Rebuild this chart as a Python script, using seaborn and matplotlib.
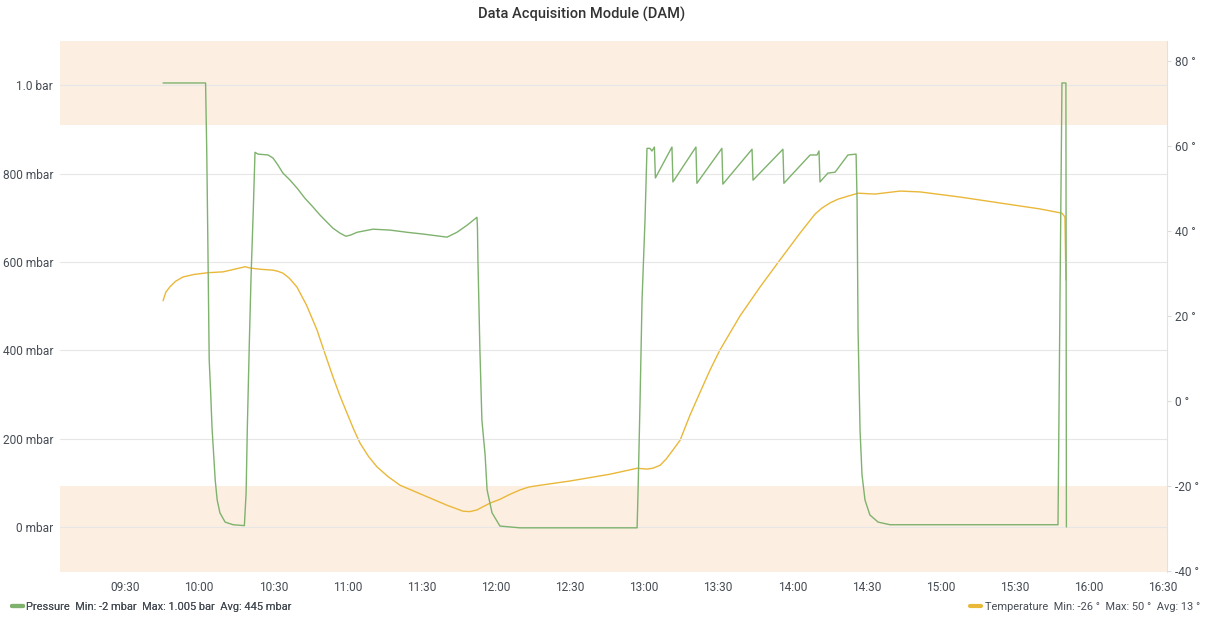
import matplotlib
matplotlib.use("Agg")
import matplotlib.pyplot as plt
import matplotlib.dates as mdates
from matplotlib.lines import Line2D
import seaborn as sns
import pandas as pd

# ---------------- data ----------------
pressure_time = [
    "09:45:24", "10:02:36", "10:03:04", "10:03:28", "10:03:52", "10:04:04", "10:04:40",
    "10:05:12", "10:06:00", "10:06:30", "10:07:18", "10:08:24", "10:10:30", "10:13:42",
    "10:18:18", "10:19:00", "10:19:30", "10:20:18", "10:21:00", "10:21:54", "10:22:36",
    "10:23:48", "10:27:54", "10:29:54", "10:31:54", "10:33:54", "10:36:48", "10:39:36",
    "10:42:48", "10:46:06", "10:48:54", "10:51:42", "10:54:12",
    "10:57:00", "10:59:24", "11:01:24", "11:03:54", "11:10:18", "11:17:12", "11:24:06", "11:30:36",
    "11:40:18", "11:44:18", "11:48:24", "11:52:24", "11:52:36", "11:52:48", "11:53:36",
    "11:54:24", "11:55:42", "11:56:30", "11:58:30", "12:01:42", "12:09:48", "12:57:12",
    "12:57:36", "12:58:24", "12:59:12", "13:00:24", "13:01:12", "13:02:24", "13:03:12",
    "13:04:12", "13:04:36", "13:11:18", "13:11:42", "13:21:00", "13:21:24", "13:31:30",
    "13:31:54", "13:43:42", "13:44:06", "13:56:12", "13:56:36", "14:07:12", "14:10:00",
    "14:10:48", "14:11:12", "14:14:24", "14:17:18", "14:22:30", "14:25:48", "14:26:12",
    "14:26:36", "14:27:24", "14:28:12", "14:29:24", "14:31:24", "14:34:42", "14:39:30",
    "15:47:30", "15:48:18", "15:49:06", "15:50:42", "15:50:54",
]
pressure_mbar = [
    1005, 1005, 853, 672, 475, 378, 303,
    226, 152, 106, 61, 32, 11, 5,
    3, 77, 226, 416, 566, 717, 848,
    844, 842, 835, 819, 801, 785, 767,
    744, 724, 706, 690, 676,
    665, 658, 661, 667, 674, 672, 667, 663,
    656, 667, 683, 701, 679, 604, 400,
    242, 163, 84, 32, 2, -2, -2,
    84, 287, 514, 695, 857, 857, 851,
    860, 790, 860, 781, 860, 778, 857,
    776, 855, 785, 855, 778, 842, 842,
    851, 781, 801, 803, 842, 844, 740,
    446, 219, 118, 61, 27, 11, 5,
    5, 514, 1005, 1005, 0,
]

temp_time = [
    "09:45:24", "09:46:30", "09:48:12", "09:50:30", "09:53:30", "09:58:00", "10:03:36",
    "10:09:42", "10:18:36", "10:20:36", "10:25:00", "10:29:54", "10:32:00", "10:33:54",
    "10:36:30", "10:39:36", "10:43:30", "10:47:42", "10:51:00", "10:54:12", "10:57:00",
    "10:59:48", "11:02:30", "11:05:06", "11:08:30", "11:12:00", "11:16:30", "11:21:18",
    "11:30:36", "11:40:18", "11:46:48", "11:49:30", "11:52:24", "11:55:00", "11:57:42",
    "12:01:42", "12:05:30", "12:09:48", "12:13:30", "12:17:54", "12:30:00", "12:46:12",
    "12:57:12", "13:01:12", "13:03:30", "13:06:30", "13:09:00", "13:11:42", "13:14:36",
    "13:18:36", "13:22:42", "13:26:42", "13:30:42", "13:38:48", "13:46:54", "13:55:00",
    "14:03:06", "14:09:12", "14:12:00", "14:15:12", "14:18:30", "14:21:18", "14:26:36",
    "14:33:30", "14:43:36", "14:51:42", "15:07:48", "15:24:00", "15:40:12", "15:49:06",
    "15:50:18", "15:50:42",
]
temp_deg = [
    23.6, 25.6, 26.9, 28.2, 29.2, 29.8, 30.2,
    30.4, 31.6, 31.3, 31.0, 30.8, 30.5, 30.1,
    28.9, 26.8, 22.5, 16.7, 11.0, 5.6, 1.2,
    -2.8, -6.6, -9.9, -13.0, -15.5, -17.8, -19.8,
    -22.1, -24.5, -25.9, -26.0, -25.6, -24.8, -24.0,
    -23.1, -22.0, -20.9, -20.2, -19.8, -18.8, -17.2,
    -15.8, -16.0, -15.8, -15.1, -13.6, -11.5, -9.2,
    -3.3, 2.1, 7.3, 12.0, 20.0, 26.8, 33.2,
    39.5, 44.0, 45.4, 46.6, 47.5, 48.0, 48.9,
    48.7, 49.4, 49.2, 48.0, 46.6, 45.2, 44.2,
    43.3, 28.5,
]

pressure_ticks = [0, 200, 400, 600, 800, 1000]
pressure_ticklabels = ["0 mbar", "200 mbar", "400 mbar", "600 mbar", "800 mbar", "1.0 bar"]
temp_ticks = [-40, -20, 0, 20, 40, 60, 80]
temp_ticklabels = ["-40 °", "-20 °", "0 °", "20 °", "40 °", "60 °", "80 °"]
thresholds_low = -20   # temperature thresholds (shaded)
thresholds_high = 65

title = "Data Acquisition Module (DAM)"
legend_pressure = "Pressure  Min: -2 mbar  Max: 1.005 bar  Avg: 445 mbar"
legend_temp = "Temperature  Min: -26 °  Max: 50 °  Avg: 13 °"

# ---------------- build ----------------
day = "2024-01-01 "
df_p = pd.DataFrame({"time": pd.to_datetime([day + t for t in pressure_time]),
                     "value": pressure_mbar})
df_t = pd.DataFrame({"time": pd.to_datetime([day + t for t in temp_time]),
                     "value": temp_deg})

sns.set_style("white")
plt.rcParams["font.family"] = ["Roboto", "DejaVu Sans"]

GREEN = "#7EB26D"
YELLOW = "#EAB839"
BAND = "#fcefe2"
GRID = "#e6e6e6"
TXT = "#464c54"
TICK_FS = 8.6
LEG_FS = 7.9

fig = plt.figure(figsize=(12.06, 6.19), dpi=100)
ax2 = fig.add_axes([60 / 1206, 1 - 572 / 619, 1107 / 1206, 531 / 619])
ax = ax2.twinx()
ax.yaxis.tick_left()
ax2.yaxis.tick_right()
ax.set_zorder(2)
ax2.set_zorder(1)
ax.patch.set_visible(False)

# threshold bands on temperature axis
ax2.axhspan(thresholds_high, 100, color=BAND, lw=0, zorder=0)
ax2.axhspan(-100, thresholds_low, color=BAND, lw=0, zorder=0)

sns.lineplot(data=df_t, x="time", y="value", ax=ax2, color=YELLOW, lw=1.0,
             estimator=None, sort=False)
sns.lineplot(data=df_p, x="time", y="value", ax=ax, color=GREEN, lw=1.0,
             estimator=None, sort=False)

xmin = pd.Timestamp(day + "09:03:42")
xmax = pd.Timestamp(day + "16:31:36")
ax.set_xlim(xmin, xmax)
ax2.set_xlim(xmin, xmax)
ax.set_ylim(-102, 1100)
ax2.set_ylim(-40.2, 84.7)

ax.set_yticks(pressure_ticks)
ax.set_yticklabels(pressure_ticklabels)
ax2.set_yticks(temp_ticks)
ax2.set_yticklabels(temp_ticklabels)

for a in (ax, ax2):
    a.xaxis.set_major_locator(mdates.MinuteLocator(byminute=[0, 30]))
    a.xaxis.set_major_formatter(mdates.DateFormatter("%H:%M"))
    a.set_xlabel("")
    a.set_ylabel("")
    for s in a.spines.values():
        s.set_visible(False)

ax.grid(True, color=GRID, lw=0.8)
ax.tick_params(axis="y", left=False, right=False, labelleft=True, labelright=False,
               length=0, labelsize=TICK_FS, labelcolor=TXT, pad=5)
ax.tick_params(axis="x", bottom=False, labelbottom=False, length=0)
ax2.tick_params(axis="x", bottom=False, length=0, labelsize=TICK_FS, labelcolor=TXT, pad=6.5)
ax2.tick_params(axis="y", right=True, left=False, labelright=True, labelleft=False,
                length=3, width=0.8, color="#dddddd", labelsize=TICK_FS, labelcolor=TXT, pad=3)
ax2.spines["right"].set_visible(True)
ax2.spines["right"].set_color("#e2e2e2")
ax2.spines["right"].set_linewidth(0.8)
ax2.grid(False)

fig.text(582 / 1206, 1 - 14 / 619, title, ha="center", va="center", fontsize=10.5,
         fontweight="medium", color="#333333")

h1 = Line2D([], [], color=GREEN, lw=3)
h2 = Line2D([], [], color=YELLOW, lw=3)
leg1 = fig.legend([h1], [legend_pressure], loc="center left",
                  bbox_to_anchor=(12 / 1206, 1 - 607 / 619), frameon=False,
                  fontsize=LEG_FS, handlelength=1.0, handletextpad=0.3,
                  borderaxespad=0.0, borderpad=0.0, labelcolor=TXT)
fig.add_artist(leg1)
leg2 = fig.legend([h2], [legend_temp], loc="center right",
                  bbox_to_anchor=(1200 / 1206, 1 - 607 / 619), frameon=False,
                  fontsize=LEG_FS, handlelength=1.0, handletextpad=0.3,
                  borderaxespad=0.0, borderpad=0.0, labelcolor=TXT)

fig.savefig("out.png", dpi=100, facecolor="white")
